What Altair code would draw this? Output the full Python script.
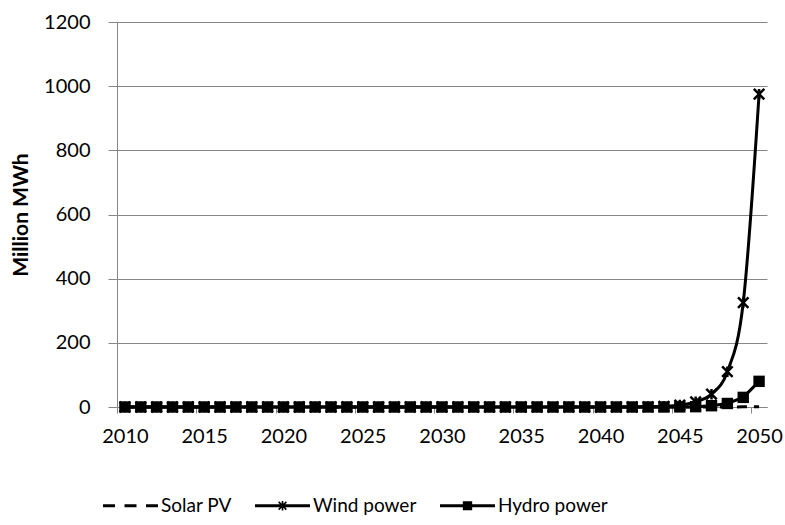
import altair as alt
import pandas as pd

# Annual generation, million MWh
years = [2010, 2011, 2012, 2013, 2014, 2015, 2016, 2017, 2018, 2019,
         2020, 2021, 2022, 2023, 2024, 2025, 2026, 2027, 2028, 2029,
         2030, 2031, 2032, 2033, 2034, 2035, 2036, 2037, 2038, 2039,
         2040, 2041, 2042, 2043, 2044, 2045, 2046, 2047, 2048, 2049,
         2050]

solar_pv = [0, 0, 0, 0, 0, 0, 0, 0, 0, 0,
            0, 0, 0, 0, 0, 0, 0, 0, 0, 0,
            0, 0, 0, 0, 0, 0, 0, 0, 0, 0,
            0, 0, 0, 0, 0, 0, 0, 0, 0, 0.5,
            1]

wind_power = [0, 0, 0, 0, 0, 0, 0, 0, 0, 0,
              0, 0, 0, 0, 0, 0, 0, 0, 0, 0,
              0, 0, 0, 0, 0, 0, 0, 0, 0, 0,
              0, 0, 0, 0.5, 2, 6, 16, 40, 110, 325,
              975]

hydro_power = [0, 0, 0, 0, 0, 0, 0, 0, 0, 0,
               0, 0, 0, 0, 0, 0, 0, 0, 0, 0,
               0, 0, 0, 0, 0, 0, 0, 0, 0, 0,
               0, 0, 0, 0, 0, 0.3, 1, 4, 11, 30,
               80]

series_names = ["Solar PV", "Wind power", "Hydro power"]
y_ticks = [0, 200, 400, 600, 800, 1000, 1200]
x_ticks = [2010, 2015, 2020, 2025, 2030, 2035, 2040, 2045, 2050]

rows = []
for name, vals in zip(series_names, [solar_pv, wind_power, hydro_power]):
    for yr, v in zip(years, vals):
        rows.append({"year": yr, "value": v, "series": name})
df = pd.DataFrame(rows)

W, H = 650, 385
half_cat = W / len(years) / 2
GREY = "#868686"
FONT = "Lato"

# Legend glyphs, drawn as filled outlines in the unit square [-1, 1]
# (a 55 px wide symbol, so 0.055 is about 1.5 px).
LINE = "M-1,-0.055L1,-0.055L1,0.055L-1,0.055Z"
DASHED = ("M-1,-0.055L-0.564,-0.055L-0.564,0.055L-1,0.055Z"
          "M-0.218,-0.055L0.218,-0.055L0.218,0.055L-0.218,0.055Z"
          "M0.564,-0.055L1,-0.055L1,0.055L0.564,0.055Z")
STAR_SMALL = ("M-0.119,-0.161L0.161,0.119L0.119,0.161L-0.161,-0.119Z"
              "M-0.161,0.119L0.119,-0.161L0.161,-0.119L-0.119,0.161Z"
              "M-0.03,-0.17L0.03,-0.17L0.03,0.17L-0.03,0.17Z")
SQUARE_SMALL = "M-0.17,-0.16L0.17,-0.16L0.17,0.16L-0.17,0.16Z"
legend_shapes = [DASHED, LINE + STAR_SMALL, LINE + SQUARE_SMALL]

# plot marker for the wind series
STAR = "M-1,-1L1,1M-1,1L1,-1M0,-1L0,1"

x_enc = alt.X(
    "year:Q",
    scale=alt.Scale(domain=[2009.5, 2050.5], nice=False, zero=False),
    axis=alt.Axis(values=x_ticks, format="d", title=None, grid=False,
                  tickOffset=-half_cat, labelOffset=half_cat,
                  tickSize=6, labelPadding=13),
)
y_enc = alt.Y(
    "value:Q",
    scale=alt.Scale(domain=[0, 1200], nice=False),
    axis=alt.Axis(values=y_ticks, format="d", title="Million MWh", tickSize=9,
                  labelPadding=18, titlePadding=12, titleFontWeight="bold",
                  titleFontSize=21, titleColor="black", grid=True),
)

base = alt.Chart(df).encode(x=x_enc, y=y_enc)

solar_line = base.transform_filter(alt.datum.series == "Solar PV").mark_line(
    color="black", strokeWidth=3, strokeDash=[10, 7]
)
wind_line = base.transform_filter(alt.datum.series == "Wind power").mark_line(
    color="black", strokeWidth=3, interpolate="monotone"
)
wind_pts = base.transform_filter(alt.datum.series == "Wind power").mark_point(
    shape=STAR, size=110, stroke="black", strokeWidth=2.5, filled=False, opacity=1
)
hydro_line = base.transform_filter(alt.datum.series == "Hydro power").mark_line(
    color="black", strokeWidth=3
)
hydro_pts = base.transform_filter(alt.datum.series == "Hydro power").mark_square(
    size=130, color="black", opacity=1
)

legend_cfg = alt.Legend(
    title=None, orient="none", direction="horizontal",
    legendX=-14, legendY=456,
    labelFont=FONT, labelFontSize=19, labelColor="black",
    symbolSize=3025, symbolStrokeWidth=0,
    symbolFillColor="black", symbolOpacity=1,
    labelOffset=3, columnPadding=23,
)
legend_layer = base.mark_point(
    filled=True, color="black", opacity=0, size=3025
).encode(
    shape=alt.Shape("series:N", sort=series_names,
                    scale=alt.Scale(domain=series_names, range=legend_shapes),
                    legend=legend_cfg),
)

chart = (
    alt.layer(solar_line, wind_line, wind_pts, hydro_line, hydro_pts, legend_layer)
    .properties(
        width=W, height=H, autosize="none",
        padding={"left": 117, "top": 22, "right": 18, "bottom": 118},
        background="white",
    )
    .configure_view(stroke=None)
    .configure_axis(
        domainColor=GREY, tickColor=GREY, gridColor=GREY,
        labelFont=FONT, labelFontSize=20, labelColor="black",
        titleFont=FONT,
    )
)

chart.save("out.html", embed_options={"renderer": "svg", "actions": False})
